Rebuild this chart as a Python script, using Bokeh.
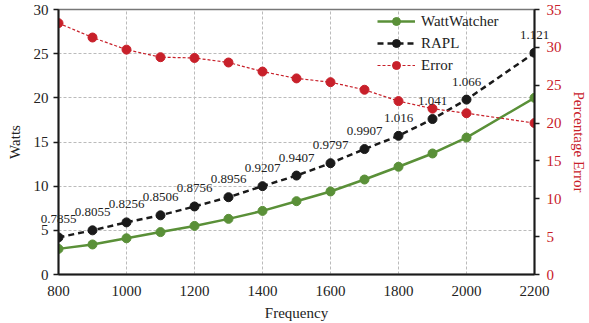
from bokeh.plotting import figure
from bokeh.models import (Range1d, LinearAxis, Legend, LegendItem, ColumnDataSource,
                          FixedTicker)
from bokeh.core.properties import value
from bokeh.embed import file_html
from bokeh.resources import INLINE

freq = [800, 900, 1000, 1100, 1200, 1300, 1400, 1500, 1600, 1700, 1800, 1900, 2000, 2200]
wattwatcher = [2.9, 3.4, 4.1, 4.8, 5.5, 6.3, 7.2, 8.3, 9.4, 10.75, 12.2, 13.7, 15.5, 20.0]
rapl = [4.2, 5.0, 5.9, 6.7, 7.7, 8.75, 10.0, 11.2, 12.6, 14.2, 15.7, 17.6, 19.8, 25.1]
error = [33.2, 31.3, 29.7, 28.7, 28.6, 28.0, 26.8, 25.9, 25.4, 24.4, 22.9, 21.9, 21.3, 20.0]
ratio_labels = ["0.7855", "0.8055", "0.8256", "0.8506", "0.8756", "0.8956", "0.9207",
                "0.9407", "0.9797", "0.9907", "1.016", "1.041", "1.066", "1.121"]

GREEN = "#5a9038"
BLACK = "#1a1a1a"
RED = "#c8202a"
FONT = "Liberation Serif"

p = figure(width=589, height=323, output_backend="svg", toolbar_location=None,
           x_range=Range1d(800, 2200), y_range=Range1d(0, 30),
           min_border_left=58, min_border_right=53, min_border_top=9, min_border_bottom=49)
p.extra_y_ranges = {"err": Range1d(0, 35)}

p.background_fill_color = "white"
p.outline_line_color = "#777777"
p.outline_line_width = 1.5

# grids
p.xgrid.ticker = FixedTicker(ticks=[1000, 1200, 1400, 1600, 1800, 2000])
p.ygrid.ticker = FixedTicker(ticks=[5, 10, 15, 20, 25, 30])
for g in (p.xgrid[0], p.ygrid[0]):
    g.grid_line_color = "#bbbbbb"
    g.grid_line_dash = "3 2"
    g.grid_line_width = 1

# axes
xa = p.xaxis[0]
xa.ticker = FixedTicker(ticks=[800, 1000, 1200, 1400, 1600, 1800, 2000, 2200])
xa.axis_label = "Frequency"
ya = p.yaxis[0]
ya.ticker = FixedTicker(ticks=[0, 5, 10, 15, 20, 25, 30])
ya.axis_label = "Watts"

ra = LinearAxis(y_range_name="err", axis_label="Percentage Error",
                ticker=FixedTicker(ticks=[0, 5, 10, 15, 20, 25, 30, 35]))
p.add_layout(ra, "right")

for ax in (xa, ya, ra):
    ax.axis_line_color = BLACK
    ax.axis_line_width = 2
    ax.major_label_text_font = FONT
    ax.major_label_text_font_size = "15px"
    ax.axis_label_text_font = FONT
    ax.axis_label_text_font_size = "15px"
    ax.axis_label_text_font_style = "normal"
    ax.minor_tick_line_color = None
    ax.major_tick_line_color = BLACK
    ax.major_tick_line_width = 1.5
    ax.major_tick_in = 0
    ax.major_tick_out = 5
    ax.major_label_text_color = "#222222"
    ax.axis_label_text_color = "#222222"
xa.major_tick_line_color = None
xa.major_label_standoff = 6
xa.axis_label_standoff = 6
ya.axis_label_standoff = 8
ra.major_label_standoff = 7
ra.major_label_text_color = RED
ra.axis_label_text_color = RED
ra.axis_label_standoff = 6

src = ColumnDataSource(dict(freq=freq, ww=wattwatcher, rapl=rapl, err=error, lab=ratio_labels))

l1 = p.line("freq", "ww", source=src, line_color=GREEN, line_width=2.5)
c1 = p.scatter("freq", "ww", source=src, size=9, fill_color=GREEN, line_color=GREEN)
l2 = p.line("freq", "rapl", source=src, line_color=BLACK, line_width=2.5, line_dash="6 4")
c2 = p.scatter("freq", "rapl", source=src, size=9, fill_color=BLACK, line_color=BLACK)
l3 = p.line("freq", "err", source=src, line_color=RED, line_width=1.2, line_dash="3 2",
            y_range_name="err")
c3 = p.scatter("freq", "err", source=src, size=9, fill_color=RED, line_color=RED,
               y_range_name="err")

p.text("freq", "rapl", text="lab", source=src, text_align="center", text_baseline="middle",
       y_offset=-18, text_font=value(FONT), text_font_size="13px", text_color="#222222",
       level="overlay")

legend = Legend(items=[
    LegendItem(label="WattWatcher", renderers=[l1, c1]),
    LegendItem(label="RAPL", renderers=[l2, c2]),
    LegendItem(label="Error", renderers=[l3, c3]),
], location=(319, 199), padding=0, margin=0, spacing=2, glyph_width=38, glyph_height=20,
    label_height=20, label_standoff=6, border_line_color=None, background_fill_alpha=0,
    label_text_font=FONT, label_text_font_size="15px", label_text_color="#222222")
p.add_layout(legend)

open("out.html", "w").write(file_html(p, INLINE))
